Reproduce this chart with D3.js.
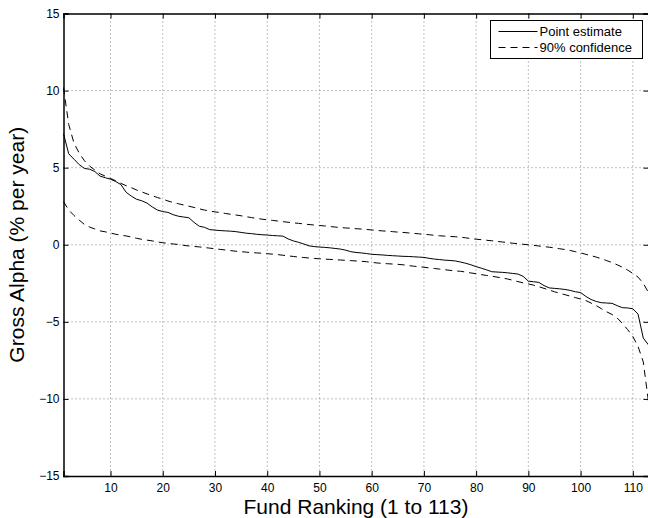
<!DOCTYPE html>
<html>
<head>
<meta charset="utf-8">
<script src="https://cdn.jsdelivr.net/npm/d3@7"></script>
<style>
  body { margin: 0; background: #fff; }
  text { font-family: "Liberation Sans", Arial, sans-serif; fill: #000; }
</style>
</head>
<body>
<div id="chart"></div>
<script>
const W = 648, H = 518;
const margin = {top: 13.5, right: -0.5, bottom: 42, left: 63.5};

// fund ranks 1..113
const ranks = d3.range(1, 114);

const pointEstimate = [
  7.2, 5.9, 5.55, 5.2, 4.95, 4.9, 4.75, 4.45, 4.35, 4.25,
  4.1, 3.9, 3.4, 3.15, 2.95, 2.85, 2.7, 2.45, 2.25, 2.15,
  2.1, 1.95, 1.85, 1.8, 1.75, 1.45, 1.2, 1.13, 0.98, 0.95,
  0.92, 0.9, 0.88, 0.85, 0.8, 0.75, 0.72, 0.68, 0.65, 0.63,
  0.6, 0.58, 0.56, 0.38, 0.25, 0.16, 0.05, -0.07, -0.12, -0.15,
  -0.17, -0.2, -0.24, -0.28, -0.35, -0.45, -0.5, -0.53, -0.57, -0.62,
  -0.64, -0.66, -0.69, -0.71, -0.73, -0.75, -0.76, -0.78, -0.8, -0.82,
  -0.88, -0.93, -0.96, -1.0, -1.02, -1.05, -1.12, -1.2, -1.3, -1.42,
  -1.52, -1.63, -1.75, -1.77, -1.79, -1.82, -1.86, -1.9, -2.05, -2.36,
  -2.4, -2.44, -2.65, -2.8, -2.83, -2.86, -2.9, -2.96, -3.05, -3.1,
  -3.35, -3.55, -3.68, -3.76, -3.78, -3.8, -3.95, -4.08, -4.1, -4.15,
  -4.5, -6.05, -6.5
];

const upperCI = [
  10.2, 7.8, 6.6, 5.95, 5.45, 5.1, 4.85, 4.6, 4.45, 4.3,
  4.15, 3.98, 3.83, 3.7, 3.55, 3.42, 3.3, 3.18, 3.06, 2.96,
  2.84, 2.74, 2.66, 2.58, 2.5, 2.42, 2.33, 2.25, 2.19, 2.13,
  2.09, 2.03, 1.98, 1.93, 1.88, 1.82, 1.76, 1.71, 1.66, 1.62,
  1.58, 1.54, 1.5, 1.46, 1.42, 1.39, 1.35, 1.31, 1.28, 1.25,
  1.22, 1.18, 1.15, 1.11, 1.09, 1.07, 1.04, 1.02, 0.99, 0.96,
  0.93, 0.9, 0.88, 0.85, 0.82, 0.8, 0.77, 0.74, 0.71, 0.68,
  0.65, 0.61, 0.58, 0.56, 0.54, 0.52, 0.49, 0.45, 0.4, 0.36,
  0.33, 0.29, 0.26, 0.22, 0.18, 0.14, 0.1, 0.07, 0.03, 0.0,
  -0.04, -0.08, -0.12, -0.16, -0.21, -0.26, -0.31, -0.37, -0.45, -0.53,
  -0.62, -0.71, -0.8, -0.91, -1.03, -1.15, -1.3, -1.46, -1.64, -1.86,
  -2.1, -2.5, -3.1
];

const lowerCI = [
  2.8, 2.25, 1.9, 1.6, 1.32, 1.15, 1.02, 0.9, 0.84, 0.76,
  0.68, 0.62, 0.57, 0.5, 0.42, 0.35, 0.3, 0.25, 0.18, 0.13,
  0.09, 0.05, 0.02, -0.04, -0.08, -0.11, -0.14, -0.18, -0.22, -0.26,
  -0.3, -0.34, -0.38, -0.42, -0.45, -0.48, -0.51, -0.53, -0.55, -0.58,
  -0.61, -0.64, -0.68, -0.72, -0.76, -0.8, -0.83, -0.86, -0.89, -0.91,
  -0.93, -0.95, -0.97, -0.99, -1.01, -1.03, -1.05, -1.07, -1.1, -1.14,
  -1.18, -1.21, -1.23, -1.25, -1.27, -1.3, -1.35, -1.39, -1.42, -1.46,
  -1.5, -1.54, -1.58, -1.62, -1.66, -1.7, -1.72, -1.77, -1.83, -1.88,
  -1.94, -1.99, -2.04, -2.1, -2.16, -2.22, -2.3, -2.39, -2.47, -2.54,
  -2.62, -2.72, -2.83, -2.94, -3.05, -3.15, -3.24, -3.33, -3.43, -3.52,
  -3.62, -3.78, -3.95, -4.15, -4.35, -4.52, -4.75, -5.1, -5.5, -5.95,
  -6.6, -7.6, -10.2
];

const xTicks = [10, 20, 30, 40, 50, 60, 70, 80, 90, 100, 110];
const yTicks = [-15, -10, -5, 0, 5, 10, 15];
const legendLabels = ["Point estimate", "90% confidence"];

const iw = W - margin.left - margin.right,
      ih = H - margin.top - margin.bottom;

let svg = d3.select("#chart").append("svg")
    .attr("width", W)
    .attr("height", H);

let g = svg.append("g")
    .attr("transform", `translate(${margin.left},${margin.top})`);

let x = d3.scaleLinear().domain([1, 113]).range([0, iw]);
let y = d3.scaleLinear().domain([-15, 15]).range([ih, 0]);

// dotted grid
g.append("g").selectAll("line").data(xTicks).join("line")
    .attr("x1", d => x(d)).attr("x2", d => x(d))
    .attr("y1", 0).attr("y2", ih)
    .attr("stroke", "#666").attr("stroke-width", 0.8)
    .attr("stroke-dasharray", "1,3");
g.append("g").selectAll("line").data(yTicks.slice(1, -1)).join("line")
    .attr("x1", 0).attr("x2", iw)
    .attr("y1", d => y(d)).attr("y2", d => y(d))
    .attr("stroke", "#666").attr("stroke-width", 0.8)
    .attr("stroke-dasharray", "1,3");

// axes, matlab style: ticks inward on every side
let fmt = d3.format("");
let xAxis = g.append("g").attr("transform", `translate(0,${ih})`)
    .call(d3.axisBottom(x).tickValues(xTicks).tickSize(-5).tickPadding(7).tickFormat(fmt));
let xTop = g.append("g")
    .call(d3.axisTop(x).tickValues(xTicks).tickSize(-5).tickFormat(""));
let yAxis = g.append("g")
    .call(d3.axisLeft(y).tickValues(yTicks).tickSize(-5).tickPadding(4).tickFormat(fmt));
let yRight = g.append("g").attr("transform", `translate(${iw},0)`)
    .call(d3.axisRight(y).tickValues(yTicks).tickSize(-5).tickFormat(""));

[xAxis, xTop, yAxis, yRight].forEach(a => {
  a.select(".domain").attr("stroke", "#000").attr("stroke-width", 1.5);
  a.selectAll(".tick line").attr("stroke", "#000").attr("stroke-width", 1);
  a.selectAll("text").style("font-size", "12px")
    .style("font-family", "'Liberation Sans', Arial, sans-serif");
});

// lines
let line = d3.line()
    .x((d, i) => x(ranks[i]))
    .y(d => y(d));

g.append("path").datum(upperCI)
    .attr("fill", "none").attr("stroke", "#000").attr("stroke-width", 1)
    .attr("stroke-dasharray", "7,5")
    .attr("d", line);
g.append("path").datum(lowerCI)
    .attr("fill", "none").attr("stroke", "#000").attr("stroke-width", 1)
    .attr("stroke-dasharray", "7,5")
    .attr("d", line);
g.append("path").datum(pointEstimate)
    .attr("fill", "none").attr("stroke", "#000").attr("stroke-width", 1)
    .attr("d", line);

// axis titles
svg.append("text")
    .attr("x", margin.left + iw / 2)
    .attr("y", 514)
    .style("text-anchor", "middle")
    .style("font-size", "21px")
    .text("Fund Ranking (1 to 113)");

svg.append("text")
    .attr("transform", `translate(24,${margin.top + ih / 2}) rotate(-90)`)
    .style("text-anchor", "middle")
    .style("font-size", "21px")
    .text("Gross Alpha (% per year)");

// legend
let legend = svg.append("g").attr("transform", "translate(490.5,20.5)");
legend.append("rect")
    .attr("width", 152).attr("height", 38)
    .attr("fill", "#fff").attr("stroke", "#000").attr("stroke-width", 1);
legendLabels.forEach((lab, i) => {
  let yy = 11 + i * 16;
  legend.append("line")
      .attr("x1", 8).attr("x2", 47)
      .attr("y1", yy).attr("y2", yy)
      .attr("stroke", "#000").attr("stroke-width", 1)
      .attr("stroke-dasharray", i == 0 ? null : "7,5");
  legend.append("text")
      .attr("x", 49).attr("y", yy + 4.5)
      .style("font-size", "13px")
      .text(lab);
});
</script>
</body>
</html>
